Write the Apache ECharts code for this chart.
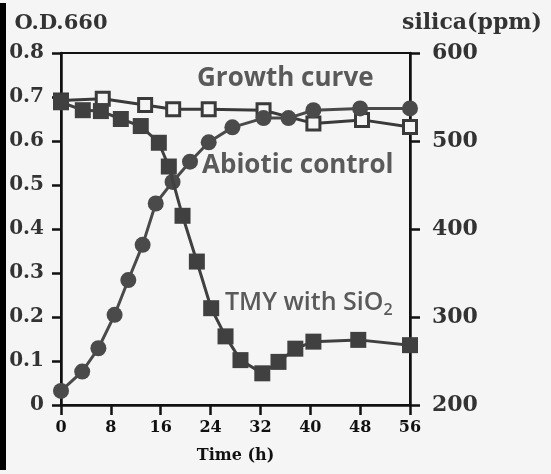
<!DOCTYPE html>
<html>
<head>
<meta charset="utf-8">
<script src="https://cdn.jsdelivr.net/npm/echarts@6/dist/echarts.min.js"></script>
<style>
html,body{margin:0;padding:0;background:#f5f5f5;}
#c{width:551px;height:474px;}
</style>
</head>
<body>
<div id="c"></div>
<script>
// ---- data ----
var xTicks = [0, 8, 16, 24, 32, 40, 48, 56];
var growthTime = [0, 3.4, 6, 8.6, 10.8, 13.1, 15.2, 17.9, 20.7, 23.7, 27.5, 32.5, 36.5, 40.5, 48, 56];
var growthOD   = [0.032, 0.076, 0.129, 0.205, 0.284, 0.364, 0.458, 0.507, 0.553, 0.597, 0.631, 0.652, 0.652, 0.670, 0.674, 0.674];
var abioticTime = [0, 6.7, 13.5, 18, 23.7, 32.5, 40.5, 48.3, 56];
var abioticPpm  = [546, 548, 541, 536, 536, 535, 520, 524, 516];
var tmyTime = [0, 3.5, 6.4, 9.6, 12.8, 15.7, 17.3, 19.5, 21.8, 24.1, 26.4, 28.8, 32.3, 34.9, 37.6, 40.5, 47.7, 56];
var tmyPpm  = [544, 535, 534, 525, 517, 498, 471, 415, 363, 310, 278, 251, 236, 249, 264, 272, 274, 268];
var leftAxisName = 'O.D.660';
var rightAxisName = 'silica(ppm)';
var xAxisName = 'Time (h)';
var labelGrowth = 'Growth curve';
var labelAbiotic = 'Abiotic control';
var labelTmy = 'TMY with SiO';

function pairs(xs, ys){ return xs.map(function(x,i){ return [x, ys[i]]; }); }

var serif = 'DejaVu Serif';
var ink = '#111';
var note = '#5a5a5a';
var chart = echarts.init(document.getElementById('c'), null, {renderer:'canvas'});
chart.setOption({
  backgroundColor: '#f5f5f5',
  animation: false,
  grid: {left: 61, right: 141, top: 53, bottom: 69, show: true, borderColor: ink, borderWidth: 2, backgroundColor: 'transparent'},
  xAxis: {
    type: 'value', min: 0, max: 56, interval: 8,
    name: xAxisName, nameLocation: 'middle', nameGap: 43,
    nameTextStyle: {fontFamily: serif, fontWeight: 'bold', fontSize: 16, color: ink},
    axisLine: {lineStyle: {color: ink, width: 2.5}},
    axisTick: {length: 10, lineStyle: {color: ink, width: 2.5}},
    axisLabel: {margin: 15, fontFamily: serif, fontWeight: 'bold', fontSize: 16, color: ink},
    splitLine: {show: false}
  },
  yAxis: [{
    type: 'value', min: 0, max: 0.8, interval: 0.1, position: 'left',
    name: leftAxisName, nameLocation: 'end', nameGap: 19,
    nameTextStyle: {fontFamily: serif, fontWeight: 'bold', fontSize: 21, color: '#333', align: 'center'},
    axisLine: {show: true, lineStyle: {color: ink, width: 2.5}},
    axisTick: {show: true, length: 9, lineStyle: {color: ink, width: 2.5}},
    axisLabel: {margin: 17, fontFamily: serif, fontWeight: 'bold', fontSize: 20, color: '#333',
      formatter: function(v){ return v === 0 ? '0' : v.toFixed(1); }},
    splitLine: {show: false}
  }, {
    type: 'value', min: 200, max: 600, interval: 100, position: 'right',
    name: rightAxisName, nameLocation: 'end', nameGap: 19,
    nameTextStyle: {fontFamily: serif, fontWeight: 'bold', fontSize: 22, color: '#333', align: 'left', padding: [0, 0, 0, -8]},
    axisLine: {show: true, lineStyle: {color: ink, width: 2.5}},
    axisTick: {show: true, length: 10, lineStyle: {color: ink, width: 2.5}},
    axisLabel: {margin: 22, fontFamily: serif, fontWeight: 'bold', fontSize: 22, color: '#333'},
    splitLine: {show: false}
  }],
  series: [{
    name: 'Abiotic control', type: 'line', yAxisIndex: 1,
    data: pairs(abioticTime, abioticPpm),
    symbol: 'rect', symbolSize: 13,
    lineStyle: {color: '#3a3a3a', width: 3},
    itemStyle: {color: '#f5f5f5', borderColor: '#3a3a3a', borderWidth: 3},
    z: 2
  }, {
    name: 'Growth curve', type: 'line', yAxisIndex: 0,
    data: pairs(growthTime, growthOD),
    symbol: 'circle', symbolSize: 16,
    lineStyle: {color: '#4a4a4a', width: 3},
    itemStyle: {color: '#4a4a4a'},
    z: 3
  }, {
    name: 'TMY with SiO2', type: 'line', yAxisIndex: 1,
    data: pairs(tmyTime, tmyPpm),
    symbol: 'rect', symbolSize: 16,
    lineStyle: {color: '#404040', width: 3},
    itemStyle: {color: '#404040'},
    z: 4
  }],
  graphic: [
    {type: 'rect', left: 0, top: 3, shape: {width: 6, height: 467}, style: {fill: '#000'}},
    {type: 'text', x: 197, y: 79, z: 10, style: {text: labelGrowth, fontFamily: 'Open Sans', fontWeight: 'bold', fontSize: 26, fill: note, textVerticalAlign: 'middle'}},
    {type: 'text', x: 202, y: 166, z: 10, style: {text: labelAbiotic, fontFamily: 'Open Sans', fontWeight: 'bold', fontSize: 26, fill: note, textVerticalAlign: 'middle'}},
    {type: 'text', x: 225, y: 303, z: 10, style: {text: '{a|' + labelTmy + '}{s|2}', textVerticalAlign: 'middle',
      rich: {a: {fontFamily: 'Open Sans', fontWeight: 600, fontSize: 25, fill: note, color: note},
             s: {fontFamily: 'Open Sans', fontWeight: 600, fontSize: 16, fill: note, color: note, padding: [14, 0, 0, 0]}}}}
  ]
});
</script>
</body>
</html>
